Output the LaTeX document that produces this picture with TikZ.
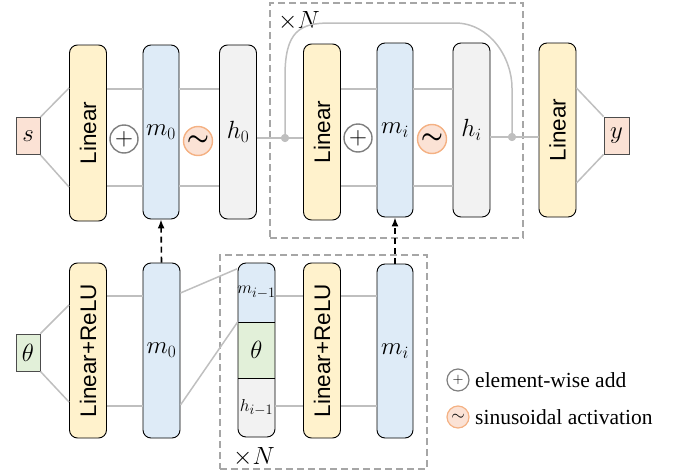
\documentclass[tikz,border=0pt]{standalone}
\usepackage{fontspec}
\setmainfont{Liberation Serif}
\newfontfamily\lsans{Liberation Sans}
\usepackage{amsmath,bm}
\usetikzlibrary{arrows.meta}
\definecolor{linfill}{HTML}{FFF2CC}
\definecolor{mfill}{HTML}{DEEBF7}
\definecolor{hfill}{HTML}{F2F2F2}
\definecolor{sfill}{HTML}{FBE2D5}
\definecolor{thfill}{HTML}{E2F0D9}
\definecolor{sinfill}{HTML}{FBE2D5}
\definecolor{sindraw}{HTML}{F4B183}
\definecolor{plusdraw}{HTML}{7F7F7F}
\definecolor{connc}{HTML}{BFBFBF}
\definecolor{dboxc}{HTML}{A6A6A6}
\begin{document}
\begin{tikzpicture}[x=1pt,y=-1pt,
  blk/.style={draw=black, line width=0.9pt, rounded corners=8pt, minimum width=37pt, minimum height=175pt, inner sep=0pt, font=\fontsize{24}{28}\selectfont},
  linb/.style={blk, fill=linfill, font=\lsans\fontsize{22.5}{26}\selectfont},
  mb/.style={blk, fill=mfill},
  hb/.style={blk, fill=hfill},
  iob/.style={draw=black!70, line width=0.8pt, minimum width=24pt, minimum height=37pt, inner sep=0pt, font=\fontsize{23}{26}\selectfont},
  pluscirc/.style={circle, draw=plusdraw, line width=1.4pt, fill=white, minimum size=28pt, inner sep=0pt, font=\fontsize{26}{28}\selectfont},
  sincirc/.style={circle, draw=sindraw, line width=1.4pt, fill=sinfill, minimum size=29pt, inner sep=0pt, font=\fontsize{30}{32}\selectfont},
  conn/.style={draw=connc, line width=1.5pt},
  dbox/.style={draw=dboxc, line width=1.5pt, dash pattern=on 7pt off 4pt, inner sep=0pt},
  darr/.style={draw=black, line width=1.6pt, dash pattern=on 6pt off 4pt, -{Latex[length=9pt,width=7pt]}},
  jdot/.style={circle, fill=connc, minimum size=8pt, inner sep=0pt},
  lbl/.style={font=\fontsize{23}{26}\selectfont, inner sep=0pt},
  leg/.style={font=\fontsize{21.5}{24}\selectfont, anchor=west, inner sep=0pt}
]
\useasboundingbox (0,0) rectangle (680,474);
% helper coordinates for horizontal connector levels
\coordinate (top1) at (0,89);
\coordinate (bot1) at (0,186);
\coordinate (top2) at (0,296);
\coordinate (bot2) at (0,406);

% dashed boxes
\node[dbox, minimum width=253pt, minimum height=235pt] (boxT) at (396.5,120.5) {};
\node[dbox, minimum width=207pt, minimum height=214pt] (boxB) at (323.5,362) {};
\node[lbl, anchor=west] (nT) at (278,21) {$\times N$};
\node[lbl, anchor=west] (nB) at (233,457) {$\times N$};

% ---------- top row ----------
\node[iob, fill=sfill] (s) at (28,136) {$s$};
\node[linb, minimum height=176pt] (L1) at (88,133) {\rotatebox{90}{Linear}};
\node[mb, minimum width=36pt, minimum height=174pt] (m0t) at (161,132) {$m_0$};
\node[hb, minimum height=174pt] (h0) at (238,132) {$h_0$};
\node[linb, minimum height=176pt] (L2) at (322,132) {\rotatebox{90}{Linear}};
\node[mb, minimum width=36pt, minimum height=174pt] (mit) at (395,130) {$m_i$};
\node[hb, minimum height=174pt] (hi) at (471.5,130) {$h_i$};
\node[linb, minimum height=174pt] (L3) at (557.5,130) {\rotatebox{90}{Linear}};
\node[iob, fill=sfill, minimum width=25pt] (y) at (616.5,135.5) {$y$};

\node[pluscirc] (p1) at (124,139) {$+$};
\node[sincirc] (sn1) at (198,141) {$\bm{\sim}$};
\node[pluscirc] (p2) at (358,138) {$+$};
\node[sincirc] (sn2) at (432,139) {$\bm{\sim}$};

\node[jdot] (j1) at (285,138) {};
\node[jdot] (j2) at (512,137) {};

% connectors top
\draw[conn] (s.north east) -- ([yshift=45pt]L1.west);
\draw[conn] (s.south east) -- ([yshift=-54pt]L1.west);
\draw[conn] (L1.east |- top1) -- (m0t.west |- top1);
\draw[conn] (L1.east |- bot1) -- (m0t.west |- bot1);
\draw[conn] (m0t.east |- top1) -- (h0.west |- top1);
\draw[conn] (m0t.east |- bot1) -- (h0.west |- bot1);
\draw[conn] (h0.east |- j1) -- (j1) -- (L2.west |- j1);
\draw[conn] (L2.east |- top1) -- (mit.west |- top1);
\draw[conn] (L2.east |- bot1) -- (mit.west |- bot1);
\draw[conn] (mit.east |- top1) -- (hi.west |- top1);
\draw[conn] (mit.east |- bot1) -- (hi.west |- bot1);
\draw[conn] (hi.east |- j2) -- (j2) -- (L3.west |- j2);
\draw[conn] ([yshift=42pt]L3.east) -- (y.north west);
\draw[conn] ([yshift=-53pt]L3.east) -- (y.south west);
% skip connection
\draw[conn] (j1) -- ++(0,-62) .. controls +(0,-45) and +(-30,0) .. ++(45,-53) -- ++(125,0) .. controls +(35,0) and +(0,-30) .. (j2 |- 0,88) -- (j2);
\node[jdot] at (j1) {};
\node[jdot] at (j2) {};

% ---------- bottom row ----------
\node[iob, fill=thfill] (th) at (28,352.5) {$\theta$};
\node[linb] (LR1) at (88,350.5) {\rotatebox{90}{Linear+ReLU}};
\node[mb] (m0b) at (161.5,350.5) {$m_0$};
% stacked column
\fill[mfill] (238,322) [rounded corners=8pt] -- (238,263) -- (275,263) [sharp corners] -- (275,322) -- cycle;
\fill[thfill] (238,322) rectangle (275,378);
\fill[hfill] (238,378) [rounded corners=8pt] -- (238,437) -- (275,437) [sharp corners] -- (275,378) -- cycle;
\draw[black, line width=0.9pt, rounded corners=8pt] (238,263) rectangle (275,437);
\draw[black, line width=0.9pt] (238,322) -- (275,322) (238,378) -- (275,378);
\node[inner sep=0pt, minimum width=37pt, minimum height=59pt, font=\fontsize{19}{22}\selectfont] (mpart) at (256.5,292.5) {$m_{i-1}$};
\node[inner sep=0pt, minimum width=37pt, minimum height=56pt, font=\fontsize{24}{28}\selectfont] (tpart) at (256.5,350) {$\theta$};
\node[inner sep=0pt, minimum width=37pt, minimum height=59pt, font=\fontsize{19}{22}\selectfont] (hpart) at (256.5,407.5) {$h_{i-1}$};
\node[linb] (LR2) at (322,350.5) {\rotatebox{90}{Linear+ReLU}};
\node[mb, minimum width=36pt, minimum height=174pt] (mib) at (395,351) {$m_i$};

% connectors bottom
\draw[conn] (th.north east) -- ([yshift=45.5pt]LR1.west);
\draw[conn] (th.south east) -- ([yshift=-51.5pt]LR1.west);
\draw[conn] (LR1.east |- top2) -- (m0b.west |- top2);
\draw[conn] (LR1.east |- bot2) -- (m0b.west |- bot2);
\draw[conn] ([yshift=57.5pt]m0b.east) -- ([yshift=-6pt]mpart.north west);
\draw[conn] ([yshift=-54.5pt]m0b.east) -- (tpart.north west);
\draw[conn] (mpart.east |- top2) -- (LR2.west |- top2);
\draw[conn] (hpart.east |- bot2) -- (LR2.west |- bot2);
\draw[conn] (LR2.east |- top2) -- (mib.west |- top2);
\draw[conn] (LR2.east |- bot2) -- (mib.west |- bot2);

% dashed arrows
\draw[darr] (m0b.north) -- (m0t.south);
\draw[darr] (mib.north) -- (mit.south);

% legend
\node[pluscirc, minimum size=22pt, line width=1.2pt, font=\fontsize{14}{15}\selectfont] (lp) at (458,380) {$+$};
\node[leg] (lpt) at (475,380) {element-wise add};
\node[sincirc, minimum size=22pt, line width=1.2pt, font=\fontsize{18}{19}\selectfont] (ls) at (458,417) {$\sim$};
\node[leg] (lst) at (475,417) {sinusoidal activation};
\end{tikzpicture}
\end{document}
